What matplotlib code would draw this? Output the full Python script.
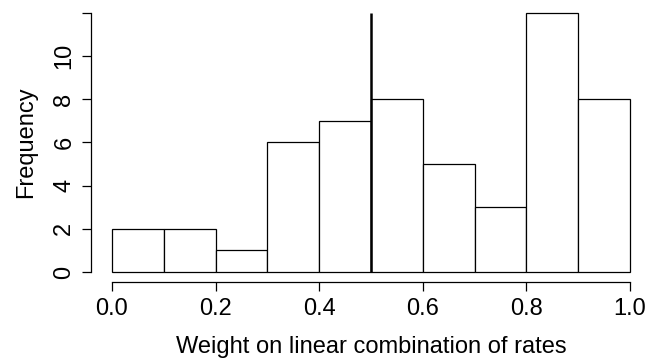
import numpy as np
import matplotlib.pyplot as plt

plt.rcParams['font.family'] = ['Liberation Sans', 'DejaVu Sans']

# histogram of weights
bin_edges = [0.0, 0.1, 0.2, 0.3, 0.4, 0.5, 0.6, 0.7, 0.8, 0.9, 1.0]
counts = [2, 2, 1, 6, 7, 8, 5, 3, 12, 8]
cut = 0.5
xticks = [0.0, 0.2, 0.4, 0.6, 0.8, 1.0]
yticks = [0, 2, 4, 6, 8, 10, 12]
yticklabels = ['0', '2', '4', '6', '8', '10', '']

fig = plt.figure(figsize=(6.6, 3.6), dpi=100)
ax = fig.add_axes([0.1383, 0.2156, 0.8476, 0.7772])

left = np.array(bin_edges[:-1])
widths = np.diff(bin_edges)
ax.bar(left, counts, width=widths, align='edge', color='white', edgecolor='black', linewidth=0.9)
ax.vlines(cut, 0, max(counts), colors='black', linewidth=1.8)

ax.set_xlim(-0.04, 1.04)
ax.set_ylim(-0.48, 12.48)
for s in ['top', 'right']:
    ax.spines[s].set_visible(False)
ax.spines['left'].set_bounds(0, 12)
ax.spines['bottom'].set_bounds(0, 1)
ax.spines['left'].set_linewidth(0.9)
ax.spines['bottom'].set_linewidth(0.9)

ax.set_xticks(xticks)
ax.set_xticklabels(['%.1f' % v for v in xticks])
ax.set_yticks(yticks)
ax.set_yticklabels(yticklabels, rotation=90, va='center')
ax.tick_params(axis='both', length=6.5, width=0.9, labelsize=17, pad=5)

ax.set_xlabel('Weight on linear combination of rates', fontsize=17, labelpad=11)
ax.set_ylabel('Frequency', fontsize=17, labelpad=12)

fig.savefig('out.png', dpi=100)
